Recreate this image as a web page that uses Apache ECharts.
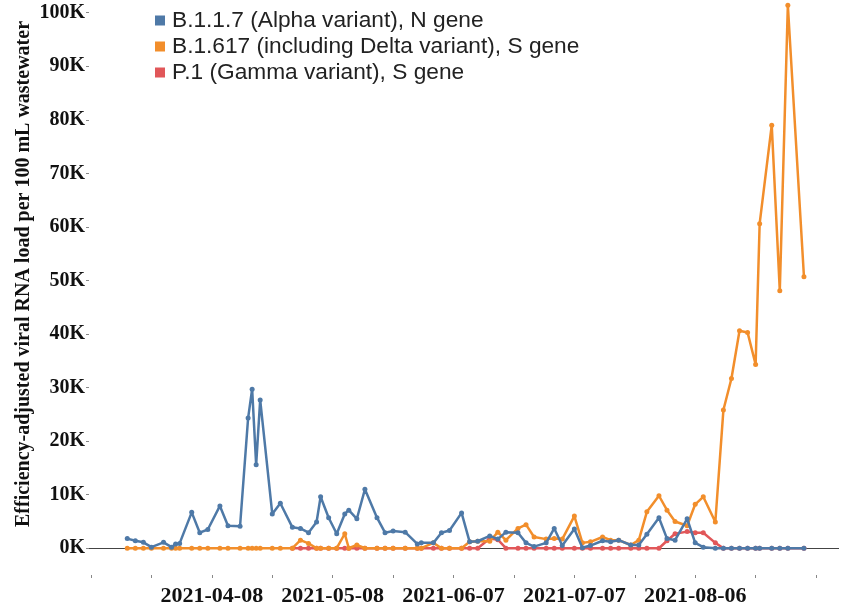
<!DOCTYPE html>
<html>
<head>
<meta charset="utf-8">
<script src="https://cdn.jsdelivr.net/npm/echarts@6/dist/echarts.min.js"></script>
<style>html,body{margin:0;padding:0;background:#fff;}#c{width:846px;height:611px;}</style>
</head>
<body>
<div id="c"></div>
<script>
const dates = ['2021-03-18','2021-03-20','2021-03-22','2021-03-24','2021-03-27','2021-03-29','2021-03-30','2021-03-31','2021-04-03','2021-04-05',
'2021-04-07','2021-04-10','2021-04-12','2021-04-15','2021-04-17','2021-04-18','2021-04-19','2021-04-20','2021-04-23','2021-04-25',
'2021-04-28','2021-04-30','2021-05-02','2021-05-04','2021-05-05','2021-05-07','2021-05-09','2021-05-11','2021-05-12','2021-05-14',
'2021-05-16','2021-05-19','2021-05-21','2021-05-23','2021-05-26','2021-05-29','2021-05-30','2021-06-02','2021-06-04','2021-06-06',
'2021-06-09','2021-06-11','2021-06-13','2021-06-16','2021-06-18','2021-06-20','2021-06-23','2021-06-25','2021-06-27','2021-06-30',
'2021-07-02','2021-07-04','2021-07-07','2021-07-09','2021-07-11','2021-07-14','2021-07-16','2021-07-18','2021-07-21','2021-07-23',
'2021-07-25','2021-07-28','2021-07-30','2021-08-01','2021-08-04','2021-08-06','2021-08-08','2021-08-11','2021-08-13','2021-08-15',
'2021-08-17','2021-08-19','2021-08-21','2021-08-22','2021-08-25','2021-08-27','2021-08-29','2021-09-02'];

const alphaN = [1800,1400,1100,200,1100,200,800,900,6700,2900,
3500,7900,4200,4100,24300,29700,15600,27700,6400,8400,
3900,3700,2900,4900,9600,5700,2700,6400,7100,5500,
11000,5700,2900,3200,3000,800,1000,1000,2900,3300,
6600,1200,1300,2300,1700,3000,2900,1000,300,1000,
3700,500,3600,100,500,1400,1200,1500,600,600,
2600,5700,1800,1500,5500,1000,200,0,0,0,
0,0,0,0,0,0,0,0];

const deltaS = [0,0,0,0,0,0,0,0,0,0,
0,0,0,0,0,0,0,0,0,0,
0,1500,900,0,0,0,0,2700,0,600,
0,0,0,0,0,0,0,1000,0,0,
0,1200,1300,1300,3000,1500,3700,4400,2100,1700,
1800,1700,6000,1000,1200,2100,1500,1500,600,1500,
6800,9800,7100,5000,4200,8200,9600,4900,25800,31700,
40600,40300,34300,60600,79000,48100,101400,50700];

const gammaS = [null,null,null,null,null,null,null,null,null,null,
null,null,null,null,null,null,null,null,null,null,
0,0,0,0,0,0,0,0,0,0,
0,0,0,0,0,0,0,0,0,0,
0,0,0,1800,1600,0,0,0,0,0,
0,0,0,0,0,0,0,0,0,0,
0,0,1400,2700,3100,2900,2900,1000,0,0,
0,0,0,0,0,0,0,0];

const seriesNames = ['B.1.1.7 (Alpha variant), N gene','B.1.617 (including Delta variant), S gene','P.1 (Gamma variant), S gene'];
const xTickDates = ['2021-03-09','2021-03-24','2021-04-08','2021-04-23','2021-05-08','2021-05-23','2021-06-07','2021-06-22','2021-07-07','2021-07-22','2021-08-06','2021-08-21','2021-09-05'];
const xLabelDates = ['2021-04-08','2021-05-08','2021-06-07','2021-07-07','2021-08-06'];
const yTicks = [0,10000,20000,30000,40000,50000,60000,70000,80000,90000,100000];
const yTitle = 'Efficiency-adjusted viral RNA load per 100 mL wastewater';

function ts(s){const p=s.split('-').map(Number);return Date.UTC(p[0],p[1]-1,p[2]);}
const DAY = 86400000;
const xMin = ts('2021-03-09') - 0.5*DAY;
const xMax = ts('2021-03-09') + 185.7*DAY;
function fmt(v){const d=new Date(v);const m=d.getUTCMonth()+1, dd=d.getUTCDate();return d.getUTCFullYear()+'-'+(m<10?'0':'')+m+'-'+(dd<10?'0':'')+dd;}

const colors = ['#4e79a7','#f28e2b','#e15759'];
const vals = [alphaN, deltaS, gammaS];
const zs = [4,3,2];

const series = vals.map((arr,k)=>({
  name: seriesNames[k], type:'line',
  data: dates.map((d,i)=>[ts(d), arr[i]]),
  symbol:'circle', symbolSize:5, showSymbol:true,
  lineStyle:{width:2.5,color:colors[k]}, itemStyle:{color:colors[k]},
  z: zs[k], emphasis:{disabled:true}, animation:false
}));
series[2].markLine = {
  silent:true, symbol:['none','none'], z:1,
  label:{show:false}, lineStyle:{color:'#444',width:1,type:'solid'},
  data:[{yAxis:0}], animation:false
};

const chart = echarts.init(document.getElementById('c'), null, {renderer:'canvas'});
chart.setOption({
  animation:false,
  color: colors,
  grid:{left:89, right:7, top:2, bottom:36, containLabel:false},
  legend:{
    orient:'vertical', left:150, top:4, itemWidth:10, itemHeight:10, itemGap:3,
    icon:'rect', selectedMode:false,
    textStyle:{fontFamily:'Liberation Sans, Arial, sans-serif', fontSize:22.7, color:'#222', lineHeight:23, padding:[0,0,0,2]},
    data: seriesNames
  },
  xAxis:{
    type:'value', min:xMin, max:xMax, scale:true,
    axisLine:{show:false, onZero:false},
    axisTick:{show:true, length:3, lineStyle:{color:'#888',width:1}, customValues: xTickDates.map(ts)},
    axisLabel:{customValues: xLabelDates.map(ts), formatter:(v)=>fmt(v), margin:10,
      fontFamily:'Liberation Serif, Times New Roman, serif', fontWeight:'bold', fontSize:22, color:'#111'},
    splitLine:{show:false}
  },
  yAxis:{
    type:'value', min:-5000, max:102000,
    axisLine:{show:false},
    axisTick:{show:true, length:3, lineStyle:{color:'#888',width:1}, customValues: yTicks},
    axisLabel:{customValues: yTicks, formatter:(v)=>(v/1000)+'K', margin:4,
      fontFamily:'Liberation Serif, Times New Roman, serif', fontWeight:'bold', fontSize:20, color:'#111'},
    splitLine:{show:false}
  },
  graphic:[{
    type:'text', x:24, y:274, rotation:Math.PI/2,
    style:{text:yTitle, fontFamily:'Liberation Serif, Times New Roman, serif', fontWeight:'bold', fontSize:20, fill:'#111', align:'center', verticalAlign:'middle'}
  }],
  series: series
});
</script>
</body>
</html>
